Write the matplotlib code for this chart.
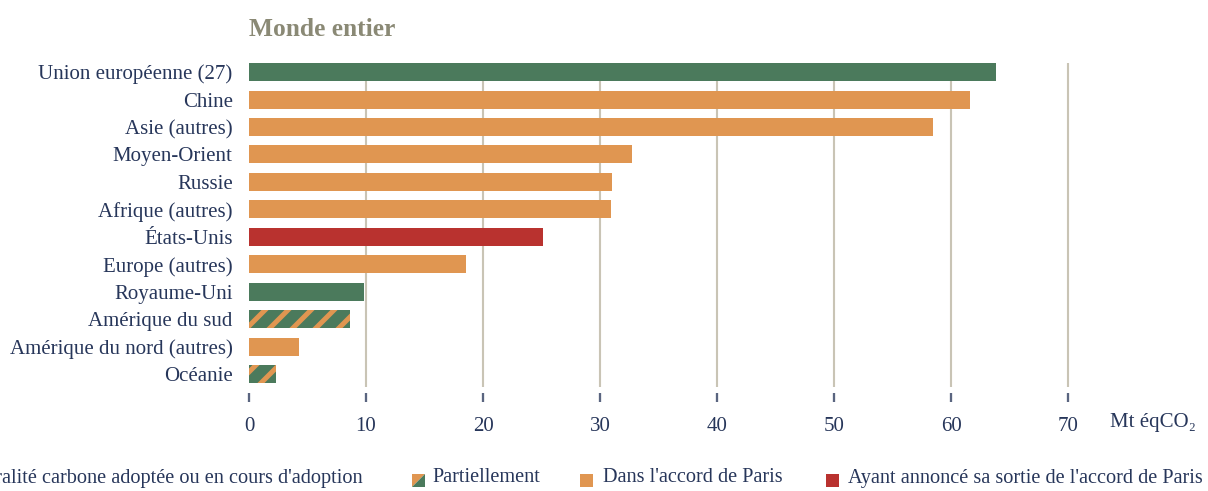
#!/usr/bin/env python3
"""Emissions par zone, monde entier (Mt eqCO2)."""

import matplotlib

matplotlib.use("Agg")

import matplotlib.pyplot as plt
from matplotlib.patches import Polygon, Rectangle
import numpy as np

REGIONS = [
    "Union européenne (27)",
    "Chine",
    "Asie (autres)",
    "Moyen-Orient",
    "Russie",
    "Afrique (autres)",
    "États-Unis",
    "Europe (autres)",
    "Royaume-Uni",
    "Amérique du sud",
    "Amérique du nord (autres)",
    "Océanie",
]
VALUES = [63.8, 61.6, 58.4, 32.7, 31.0, 30.9, 25.1, 18.5, 9.8, 8.6, 4.3, 2.3]
STATUS = [
    "neutre", "paris", "paris", "paris", "paris", "paris",
    "sortie", "paris", "neutre", "partiel", "paris", "partiel",
]
XTICKS = [0, 10, 20, 30, 40, 50, 60, 70]
LEGEND_LABELS = {
    "neutre": "Neutralité carbone adoptée ou en cours d'adoption",
    "partiel": "Partiellement",
    "paris": "Dans l'accord de Paris",
    "sortie": "Ayant annoncé sa sortie de l'accord de Paris",
}

GREEN = "#4b7a5c"
ORANGE = "#e09651"
RED = "#b9322f"
NAVY = "#27365a"
GRID = "#c9c4b5"
TITLE = "#8a8975"
FS = 10.9
LEG_FS = 10.6

plt.rcParams["font.family"] = ["Liberation Serif", "DejaVu Serif"]
plt.rcParams["hatch.linewidth"] = 2.6

DPI = 138
fig = plt.figure(figsize=(1208 / DPI, 491 / DPI), dpi=DPI)
ax = fig.add_axes([249 / 1208, 1 - 387 / 491, (1080 - 249) / 1208, (387 - 63) / 491])

y = np.arange(len(REGIONS))
for yi, val, st in zip(y, VALUES, STATUS):
    if st == "partiel":
        ax.barh(yi, val, height=0.656, color=GREEN, edgecolor=ORANGE, hatch="//", linewidth=0, zorder=2)
    else:
        color = {"neutre": GREEN, "paris": ORANGE, "sortie": RED}[st]
        ax.barh(yi, val, height=0.656, color=color, linewidth=0, zorder=2)

ax.set_ylim(11.47, -0.33)
ax.set_xlim(0, 71)
ax.set_yticks(y)
ax.set_yticklabels(REGIONS)
ax.set_xticks(XTICKS)
ax.set_xticklabels([str(t) for t in XTICKS])
ax.tick_params(axis="y", length=0, pad=8.5, labelsize=FS, labelcolor=NAVY)
ax.tick_params(axis="x", length=4.5, width=1.2, color="#5a6580", pad=8, labelsize=FS, labelcolor=NAVY)
for t in XTICKS[1:]:
    ax.axvline(t, color=GRID, linewidth=1.1, zorder=1)
for side in ["top", "right", "left"]:
    ax.spines[side].set_visible(False)
ax.spines["bottom"].set_position(("outward", 3))
ax.spines["bottom"].set_visible(False)

fig.text(249 / 1208, 1 - 29 / 491, "Monde entier", fontsize=13.3, fontweight="bold",
         color=TITLE, va="center", ha="left")
fig.text(1110 / 1208, 1 - 422 / 491, "Mt éqCO₂", fontsize=FS, color=NAVY,
         va="center", ha="left")

# legend, drawn by hand so the first entry can run off the left edge
ly = 1 - 480 / 491
sq_w = 13 / 1208
sq_h = 13 / 491
items = [
    ("neutre", 363 / 1208, None),
    ("partiel", 412 / 1208, 432 / 1208),
    ("paris", 580 / 1208, 603 / 1208),
    ("sortie", 826 / 1208, 848 / 1208),
]
for key, x0, tx in items:
    if key == "neutre":
        fig.text(x0, ly + 2 / 491, LEGEND_LABELS[key], fontsize=LEG_FS, color=NAVY, va="center", ha="right")
        continue
    if key == "partiel":
        fig.patches.append(Polygon([[x0, ly - sq_h / 2], [x0, ly + sq_h / 2], [x0 + sq_w, ly + sq_h / 2]],
                                   closed=True, facecolor=ORANGE, edgecolor="none",
                                   transform=fig.transFigure, figure=fig))
        fig.patches.append(Polygon([[x0, ly - sq_h / 2], [x0 + sq_w, ly - sq_h / 2], [x0 + sq_w, ly + sq_h / 2]],
                                   closed=True, facecolor=GREEN, edgecolor="none",
                                   transform=fig.transFigure, figure=fig))
    else:
        color = ORANGE if key == "paris" else RED
        fig.patches.append(Rectangle((x0, ly - sq_h / 2), sq_w, sq_h, facecolor=color,
                                     edgecolor="none", transform=fig.transFigure, figure=fig))
    fig.text(tx, ly + 2 / 491, LEGEND_LABELS[key], fontsize=LEG_FS, color=NAVY, va="center", ha="left")

fig.savefig("out.png", dpi=DPI)
